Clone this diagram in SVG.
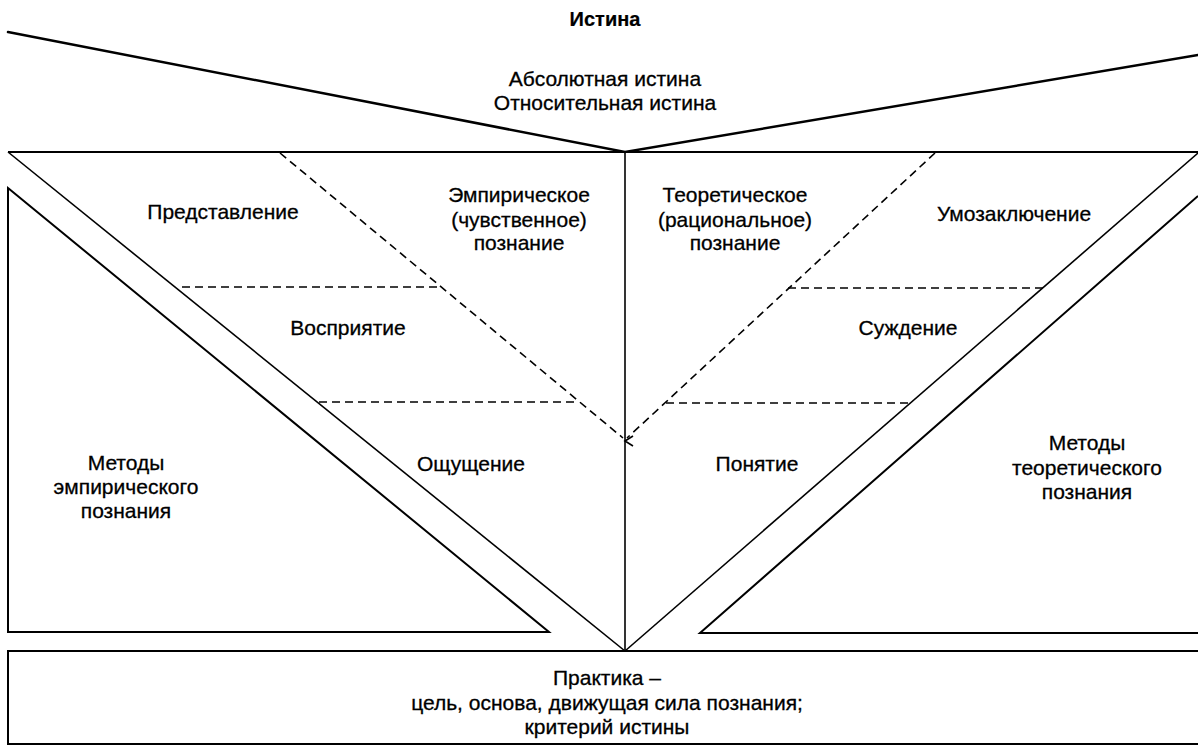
<svg xmlns="http://www.w3.org/2000/svg" width="1198" height="748" viewBox="0 0 1198 748">
<style>
  .t { font-family: "Liberation Sans", Arial, sans-serif; font-size: 21px; fill: #000; stroke: #000; stroke-width: 0.3; text-anchor: middle; }
  .b { font-weight: bold; font-size: 20px; stroke-width: 0.2; }
  .thick { stroke: #000; stroke-width: 2.5; fill: none; stroke-linecap: round; }
  .solid { stroke: #000; stroke-width: 2; fill: none; }
  .thin { stroke: #000; stroke-width: 1.6; fill: none; }
  .dash { stroke: #000; stroke-width: 1.6; fill: none; stroke-dasharray: 8 5; }
</style>
<defs>
  <marker id="arrow" viewBox="0 0 12 12" refX="6" refY="10" markerWidth="12" markerHeight="12" markerUnits="userSpaceOnUse" orient="auto-start-reverse">
    <path d="M1,2 L6,10 L11,2" fill="none" stroke="#000" stroke-width="1.6"/>
  </marker>
</defs>
<rect width="1198" height="748" fill="#fff"/>

<g id="connectors">
  <polyline class="thick" points="8,32 625,152 1198,55"/>
  <line class="solid" x1="8" y1="152" x2="1198" y2="152"/>
  <line class="thin" x1="625" y1="152" x2="625" y2="651"/>
  <line class="thin" x1="8" y1="152" x2="625" y2="651"/>
  <line class="thin" x1="625" y1="651" x2="1198" y2="153"/>
  <line class="dash" x1="280" y1="153" x2="623" y2="438"/>
  <line class="dash" x1="935" y1="153" x2="627" y2="438"/>
  <line x1="625" y1="420" x2="625" y2="441" stroke="none" marker-end="url(#arrow)"/>
  <line class="dash" x1="182" y1="287" x2="441" y2="287"/>
  <line class="dash" x1="319" y1="402" x2="575" y2="402"/>
  <line class="dash" x1="788" y1="288" x2="1045" y2="288"/>
  <line class="dash" x1="666" y1="403" x2="912" y2="403"/>
</g>

<g id="truth">
  <text class="t b" x="605" y="26">Истина</text>
  <text class="t" x="605" y="86">Абсолютная истина</text>
  <text class="t" x="605" y="110">Относительная истина</text>
</g>

<g id="empirical">
  <text class="t" x="519" y="202">Эмпирическое</text>
  <text class="t" x="519" y="227">(чувственное)</text>
  <text class="t" x="519" y="250">познание</text>
</g>
<g id="theoretical">
  <text class="t" x="735" y="202">Теоретическое</text>
  <text class="t" x="735" y="227">(рациональное)</text>
  <text class="t" x="735" y="250">познание</text>
</g>

<g id="representation"><text class="t" x="223" y="219">Представление</text></g>
<g id="perception"><text class="t" x="348" y="335">Восприятие</text></g>
<g id="sensation"><text class="t" x="471" y="471">Ощущение</text></g>

<g id="inference"><text class="t" x="1014" y="221">Умозаключение</text></g>
<g id="judgement"><text class="t" x="908" y="335">Суждение</text></g>
<g id="concept"><text class="t" x="757" y="471">Понятие</text></g>

<g id="empirical-methods">
  <polygon class="solid" points="8,188 549,632 8,632"/>
  <text class="t" x="126" y="470">Методы</text>
  <text class="t" x="126" y="494">эмпирического</text>
  <text class="t" x="126" y="518">познания</text>
</g>

<g id="theoretical-methods">
  <polyline class="solid" points="1198,196 700,633 1198,633"/>
  <text class="t" x="1087" y="450">Методы</text>
  <text class="t" x="1087" y="475">теоретического</text>
  <text class="t" x="1087" y="499">познания</text>
</g>

<g id="practice">
  <polyline class="solid" points="1198,651 8,651 8,744 1198,744"/>
  <text class="t" x="607" y="685">Практика –</text>
  <text class="t" x="607" y="710">цель, основа, движущая сила познания;</text>
  <text class="t" x="607" y="734">критерий истины</text>
</g>
</svg>
